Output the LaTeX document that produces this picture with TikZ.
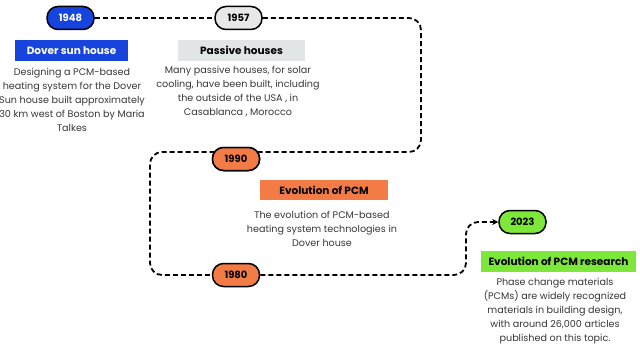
\documentclass[tikz,border=0pt]{standalone}
\usepackage{fontspec}
\setmainfont{Poppins}
\usetikzlibrary{arrows.meta}
\definecolor{cblue}{RGB}{24,68,222}
\definecolor{cgray}{RGB}{226,229,229}
\definecolor{cpill}{RGB}{232,232,232}
\definecolor{corange}{RGB}{243,123,69}
\definecolor{cgreen}{RGB}{126,232,58}
\definecolor{ctext}{RGB}{55,55,55}
\tikzset{
  pill/.style={draw=black, line width=1.5pt, rounded corners=11pt, minimum width=47pt, minimum height=23pt, inner sep=0pt, font=\fontsize{10}{10}\selectfont\bfseries},
  head/.style={inner sep=0pt, minimum height=21pt, font=\fontsize{10.5}{11}\selectfont\bfseries},
  desc/.style={align=center, text=ctext, inner sep=0pt, font=\fontsize{9.6}{14}\selectfont},
  timeline/.style={line width=1.8pt, dash pattern=on 5pt off 3pt, rounded corners=12pt}
}
\begin{document}
\begin{tikzpicture}[x=1pt,y=-1pt]
\useasboundingbox (0,0) rectangle (640,353);
% pills
\node[pill, fill=cblue, text=white] (y1948) at (70.5,18) {1948};
\node[pill, fill=cpill] (y1957) at (238.5,18) {1957};
\node[pill, fill=corange] (y1990) at (236,159) {1990};
\node[pill, fill=corange] (y1980) at (236,275) {1980};
\node[pill, fill=cgreen] (y2023) at (522.5,222) {2023};
% corner coordinates
\coordinate (c1) at (421,18);
\coordinate (c2) at (421,152);
\coordinate (c3) at (150,152);
\coordinate (c4) at (150,275);
\coordinate (c5) at (466,275);
\coordinate (c6) at (466,222);
% timeline
\draw[timeline] (y1948.east) -- (y1957.west);
\draw[timeline] (y1957.east) -- (c1) -- (c2) -- (c3) -- (c4) -- (y1980.west);
\draw[timeline, -{Stealth[length=6pt,width=6pt]}] (y1980.east) -- (c5) -- (c6) -- (y2023.west);
% redraw pill on top of the line
\node[pill, fill=corange] at (y1990) {1990};
% headings
\node[head, fill=cblue, text=white, minimum width=113pt] (h1) at (71.5,50.5) {Dover sun house};
\node[head, fill=cgray, minimum width=127pt] (h2) at (241.5,50.5) {Passive houses};
\node[head, fill=corange, minimum width=128pt, minimum height=20pt] (h3) at (324,190) {Evolution of PCM};
\node[head, fill=cgreen, minimum width=155pt] (h4) at (558.5,261.5) {Evolution of PCM research};
% descriptions
\node[desc] (d1) at (72,100) {Designing a PCM-based\\heating system for the Dover\\Sun house built approximately\\30 km west of Boston by Maria\\Talkes};
\node[desc] (d2) at (238,92) {Many passive houses, for solar\\cooling, have been built, including\\the outside of the USA , in\\Casablanca , Morocco};
\node[desc] (d3) at (322,229) {The evolution of PCM-based\\heating system technologies in\\Dover house};
\node[desc] (d4) at (555,311) {Phase change materials\\(PCMs) are widely recognized\\materials in building design,\\with around 26,000 articles\\published on this topic.};
\end{tikzpicture}
\end{document}
